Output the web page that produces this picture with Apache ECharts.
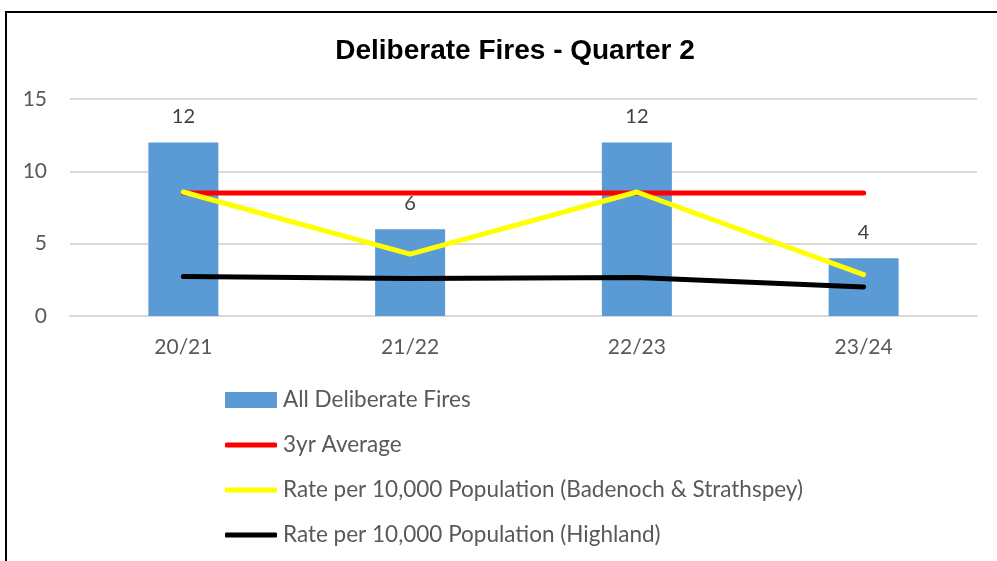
<!DOCTYPE html>
<html>
<head>
<meta charset="utf-8">
<script src="https://cdn.jsdelivr.net/npm/echarts@6/dist/echarts.min.js"></script>
<style>
html, body { margin: 0; padding: 0; background: #fff; }
#chartDiv { width: 997px; height: 561px; }
</style>
</head>
<body>
<div id="chartDiv"></div>
<script>
var categories = ['20/21', '21/22', '22/23', '23/24'];
var allFires = [12, 6, 12, 4];
var threeYrAverage = [8.5, 8.5, 8.5, 8.5];
var rateBadenoch = [8.57, 4.28, 8.57, 2.86];
var rateHighland = [2.73, 2.59, 2.66, 2.01];
var yTicks = [0, 5, 10, 15];

var seriesNames = [
    'All Deliberate Fires',
    '3yr Average',
    'Rate per 10,000 Population (Badenoch & Strathspey)',
    'Rate per 10,000 Population (Highland)'
];

var myChart = echarts.init(document.getElementById('chartDiv'));
var textFont = 'Lato';
var greyText = '#595959';

function lineSeries(name, data, color) {
    return {
        name: name,
        type: 'line',
        data: data,
        color: color,
        symbol: 'none',
        lineStyle: {width: 5, color: color, cap: 'round', join: 'round'}
    };
}

myChart.setOption({
    animation: false,
    title: {
        text: 'Deliberate Fires - Quarter 2',
        left: 510,
        textAlign: 'center',
        top: 32,
        textStyle: {fontFamily: 'Liberation Sans', fontWeight: 'bold', fontSize: 28, color: '#000'}
    },
    graphic: [{
        type: 'rect',
        shape: {x: 6, y: 12, width: 1100, height: 700},
        style: {fill: 'none', stroke: '#000', lineWidth: 2},
        z: -1
    }],
    legend: [{
        orient: 'vertical',
        left: 225,
        top: 388,
        padding: 0,
        itemWidth: 52,
        itemHeight: 16,
        data: [{name: seriesNames[0], icon: 'rect'}],
        textStyle: {fontFamily: textFont, fontSize: 22.5, color: greyText, lineHeight: 24, padding: [0, 0, 0, 1]}
    }, {
        orient: 'vertical',
        left: 225,
        top: 433,
        padding: 0,
        itemWidth: 52,
        itemHeight: 5,
        itemGap: 21,
        data: seriesNames.slice(1).map(function (n) { return {name: n, icon: 'roundRect'}; }),
        textStyle: {fontFamily: textFont, fontSize: 22.5, color: greyText, lineHeight: 24, padding: [0, 0, 0, 1]}
    }],
    grid: {left: 70, right: 20, top: 99, bottom: 245},
    xAxis: {
        type: 'category',
        data: categories,
        axisLine: {show: true, lineStyle: {color: '#d9d9d9', width: 2}},
        axisTick: {show: false},
        axisLabel: {fontFamily: textFont, fontSize: 21, color: greyText, margin: 21}
    },
    yAxis: {
        type: 'value',
        min: yTicks[0],
        max: yTicks[yTicks.length - 1],
        interval: 5,
        axisLine: {show: false},
        axisTick: {show: false},
        splitLine: {lineStyle: {color: '#d9d9d9', width: 2}},
        axisLabel: {fontFamily: textFont, fontSize: 21, color: greyText, margin: 23}
    },
    series: [{
        name: seriesNames[0],
        type: 'bar',
        data: allFires,
        barWidth: 70,
        itemStyle: {color: '#5b9bd5'},
        label: {
            show: true,
            position: 'top',
            distance: 16,
            fontFamily: textFont,
            fontSize: 20,
            color: '#404040'
        }
    },
        lineSeries(seriesNames[1], threeYrAverage, '#ff0000'),
        lineSeries(seriesNames[2], rateBadenoch, '#ffff00'),
        lineSeries(seriesNames[3], rateHighland, '#000000')
    ]
});
window.onresize = myChart.resize;
</script>
</body>
</html>
